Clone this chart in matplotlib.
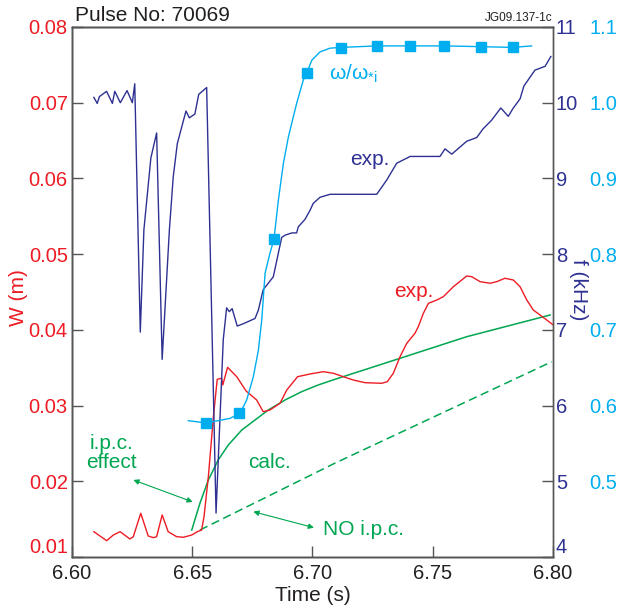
import matplotlib
matplotlib.use("Agg")
import matplotlib.pyplot as plt

plt.rcParams['font.family'] = ['Liberation Sans', 'DejaVu Sans']
plt.rcParams['mathtext.fontset'] = 'custom'
plt.rcParams['mathtext.rm'] = 'Liberation Sans'
plt.rcParams['mathtext.it'] = 'Liberation Sans:italic'

RED = '#ED1C24'
NAVY = '#2E3192'
CYAN = '#00AEEF'
GREEN = '#00A651'
DARK = '#231F20'

# mode frequency, experiment (kHz)
t_f = [6.6091, 6.6105, 6.6114, 6.6144, 6.6168, 6.6178, 6.6201, 6.6229, 6.6251, 6.6261,
       6.6284, 6.6299, 6.6328, 6.6352, 6.6375, 6.6405, 6.6421, 6.6438, 6.6474, 6.6488,
       6.6511, 6.6527, 6.6560, 6.6599, 6.6629, 6.6643, 6.6654, 6.6666, 6.6687, 6.6712,
       6.6761, 6.6775, 6.6795, 6.6837, 6.6872, 6.6886, 6.6914, 6.6934, 6.6941, 6.6969,
       6.6990, 6.7003, 6.7031, 6.7073, 6.7267, 6.7309, 6.7350, 6.7406, 6.7530, 6.7551,
       6.7579, 6.7641, 6.7683, 6.7708, 6.7745, 6.7783, 6.7814, 6.7835, 6.7863, 6.7879,
       6.7925, 6.7967, 6.7991]
f_exp = [10.07, 9.99, 10.08, 10.15, 9.99, 10.15, 10.00, 10.16, 10.00, 10.25,
         6.97, 8.32, 9.27, 9.60, 6.61, 8.32, 9.02, 9.46, 9.89, 9.80,
         9.85, 10.11, 10.20, 4.58, 6.87, 7.29, 7.24, 7.28, 7.05, 7.08,
         7.15, 7.26, 7.53, 7.70, 8.22, 8.25, 8.28, 8.28, 8.36, 8.46,
         8.58, 8.67, 8.75, 8.79, 8.79, 8.98, 9.20, 9.29, 9.29, 9.39,
         9.32, 9.49, 9.54, 9.65, 9.77, 9.93, 9.82, 9.93, 10.05, 10.22,
         10.43, 10.48, 10.61]

# island width, experiment (m)
t_w = [6.6091, 6.6144, 6.6172, 6.6200, 6.6241, 6.6255, 6.6286, 6.6317, 6.6338, 6.6352,
       6.6375, 6.6400, 6.6435, 6.6463, 6.6498, 6.6521, 6.6539, 6.6549, 6.6567, 6.6588,
       6.6604, 6.6622, 6.6627, 6.6647, 6.6685, 6.6724, 6.6768, 6.6795, 6.6823, 6.6865,
       6.6893, 6.6938, 6.6990, 6.7045, 6.7087, 6.7128, 6.7170, 6.7218, 6.7288, 6.7311,
       6.7336, 6.7364, 6.7392, 6.7426, 6.7440, 6.7461, 6.7482, 6.7517, 6.7544, 6.7586,
       6.7641, 6.7662, 6.7697, 6.7738, 6.7766, 6.7800, 6.7835, 6.7863, 6.7891, 6.7918,
       6.7974, 6.8001]
w_exp = [0.01334, 0.01215, 0.01290, 0.01334, 0.01238, 0.01268, 0.01577, 0.01277, 0.01255, 0.01268,
         0.01555, 0.01334, 0.01268, 0.01260, 0.01290, 0.01334, 0.01356, 0.01532, 0.02060, 0.02853,
         0.03347, 0.03360, 0.03272, 0.03505, 0.03381, 0.03192, 0.03073, 0.02919, 0.02941, 0.03030,
         0.03205, 0.03381, 0.03417, 0.03447, 0.03426, 0.03381, 0.03337, 0.03302, 0.03294, 0.03315,
         0.03426, 0.03645, 0.03822, 0.03954, 0.04042, 0.04218, 0.04350, 0.04394, 0.04438, 0.04570,
         0.04711, 0.04702, 0.04636, 0.04615, 0.04636, 0.04681, 0.04658, 0.04570, 0.04394, 0.04262,
         0.04130, 0.04064]

# island width, calculated with and without i.p.c.
t_calc = [6.6498, 6.6532, 6.6567, 6.6608, 6.6650, 6.6706, 6.6761, 6.6816, 6.6886, 6.6955,
          6.7024, 6.7094, 6.7364, 6.7641, 6.7988]
w_calc = [0.01356, 0.01709, 0.02017, 0.02281, 0.02479, 0.02677, 0.02809, 0.02941, 0.03073, 0.03183,
          0.03272, 0.03347, 0.03624, 0.03909, 0.04196]
t_noipc = [6.6532, 6.7094, 6.7995]
w_noipc = [0.01356, 0.02240, 0.03579]

# normalised frequency omega/omega_*i
t_om = [6.6484, 6.6557, 6.6657, 6.6699, 6.6726, 6.6754, 6.6775, 6.6789, 6.6803, 6.6823,
        6.6840, 6.6858, 6.6879, 6.6900, 6.6934, 6.6962, 6.6976, 6.6997, 6.7031, 6.7073,
        6.7117, 6.7269, 6.7405, 6.7548, 6.7699, 6.7832, 6.7911]
om = [0.580, 0.577, 0.583, 0.590, 0.607, 0.638, 0.673, 0.713, 0.775, 0.801,
      0.820, 0.871, 0.920, 0.955, 0.999, 1.030, 1.039, 1.056, 1.067, 1.072,
      1.073, 1.075, 1.075, 1.075, 1.074, 1.073, 1.075]
t_sq = [6.6557, 6.6696, 6.6840, 6.6976, 6.7117, 6.7269, 6.7405, 6.7548, 6.7699, 6.7832]
om_sq = [0.5773, 0.5897, 0.8195, 1.0388, 1.0719, 1.0749, 1.0749, 1.0749, 1.0740, 1.0732]

fig = plt.figure(figsize=(6.21, 6.13), dpi=100)
ax = fig.add_axes([0.1159, 0.0914, 0.7746, 0.8646])
ax2 = ax.twinx()
ax3 = ax.twinx()

ax.plot(t_calc, w_calc, color=GREEN, lw=1.1)
ax.plot(t_noipc, w_noipc, color=GREEN, lw=1.1, dashes=(5.5, 3))
ax.plot(t_w, w_exp, color=RED, lw=1.0)
ax2.plot(t_f, f_exp, color=NAVY, lw=1.0)
ax3.plot(t_om, om, color=CYAN, lw=1.0)
ax3.plot(t_sq, om_sq, ls='none', marker='s', ms=6.8, color=CYAN)

ax.set_xlim(6.60, 6.80)
ax.set_ylim(0.01, 0.08)
ax2.set_ylim(4, 11)
ax3.set_ylim(0.4, 1.1)

ax.set_xticks([6.60, 6.65, 6.70, 6.75, 6.80])
ax.set_xticklabels(['6.60', '6.65', '6.70', '6.75', '6.80'])
ax.set_yticks([0.01, 0.02, 0.03, 0.04, 0.05, 0.06, 0.07, 0.08])
ax.set_yticklabels(['0.01', '0.02', '0.03', '0.04', '0.05', '0.06', '0.07', '0.08'])
ax2.set_yticks(range(4, 12))
ax2.set_yticklabels([str(v) for v in range(4, 12)])
ax3.set_yticks([0.5, 0.6, 0.7, 0.8, 0.9, 1.0, 1.1])
ax3.set_yticklabels(['0.5', '0.6', '0.7', '0.8', '0.9', '1.0', '1.1'])

ax.tick_params(axis='x', direction='in', length=8, width=1, colors='#555555',
               labelcolor=DARK, labelsize=14.5, pad=5)
ax.tick_params(axis='y', direction='in', length=8, width=1, colors='#555555',
               labelcolor=RED, labelsize=14.5, pad=3)
ax2.tick_params(axis='y', direction='in', length=8, width=1, colors='#555555',
                labelcolor=NAVY, labelsize=14.5, pad=2)
ax3.tick_params(axis='y', length=0, labelcolor=CYAN, labelsize=14.5, pad=26)

# lowest labels sit on the bottom spine rather than centred on it
ax.get_yticklabels()[0].set_va('bottom')
ax2.get_yticklabels()[0].set_va('bottom')

for a in (ax, ax2, ax3):
    for s in a.spines.values():
        s.set_color('#555555')
        s.set_linewidth(1.0)
ax.spines['top'].set_color(DARK)
ax3.spines['right'].set_visible(False)

ax.text(-0.112, 0.489, 'W (m)', transform=ax.transAxes, rotation=90,
        color=RED, fontsize=15, ha='center', va='center')
ax.text(1.052, 0.504, 'f (kHz)', transform=ax.transAxes, rotation=270,
        color=NAVY, fontsize=15, ha='center', va='center')
ax.text(0.5, -0.072, 'Time (s)', transform=ax.transAxes,
        color=DARK, fontsize=15, ha='center', va='center')
ax.text(0.006, 1.004, 'Pulse No: 70069', transform=ax.transAxes,
        color=DARK, fontsize=15, ha='left', va='bottom')
ax.text(0.998, 1.006, 'JG09.137-1c', transform=ax.transAxes,
        color=DARK, fontsize=8.5, ha='right', va='bottom')

# curve labels
ax.text(6.7069, 0.0738, 'ω/ω$_{*\\rm{i}}$', color=CYAN, fontsize=15, va='center')
ax.text(6.7156, 0.0625, 'exp.', color=NAVY, fontsize=15, va='center')
ax.text(6.7339, 0.0451, 'exp.', color=RED, fontsize=15, va='center')
ax.text(6.6732, 0.0225, 'calc.', color=GREEN, fontsize=15, va='center')
ax.text(6.7044, 0.0136, 'NO i.p.c.', color=GREEN, fontsize=15, va='center')
ax.text(6.6166, 0.0237, 'i.p.c.\neffect', color=GREEN, fontsize=15,
        ha='center', va='center', linespacing=1.0)

arrow = dict(arrowstyle='<|-|>', color=GREEN, lw=0.8, mutation_scale=8,
             shrinkA=0, shrinkB=0)
ax.annotate('', xy=(6.6502, 0.01727), xytext=(6.6255, 0.02017), arrowprops=arrow)
ax.annotate('', xy=(6.7006, 0.01387), xytext=(6.6754, 0.01598), arrowprops=arrow)

fig.savefig('out.png', dpi=100)
